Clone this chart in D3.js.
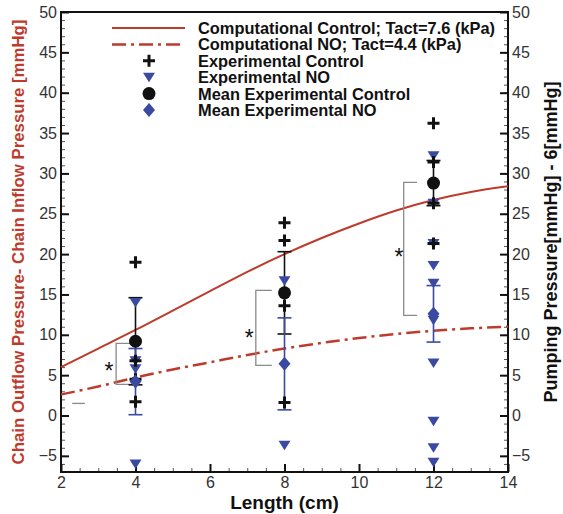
<!DOCTYPE html>
<html>
<head>
<meta charset="utf-8">
<script src="https://cdn.jsdelivr.net/npm/d3@7"></script>
<style>
  body { margin: 0; background: #fff; }
  svg { display: block; font-family: "Liberation Sans", Arial, sans-serif; }
</style>
</head>
<body>
<svg id="chart"></svg>
<script>
// computational curves
const curveLength = [2, 3, 4, 5, 6, 7, 8, 9, 10, 11, 12, 13, 14];
const compControl = [6.0, 8.3, 10.6, 13.0, 15.4, 17.8, 20.0, 22.0, 23.8, 25.4, 26.7, 27.7, 28.4];
const compNO = [2.6, 3.6, 4.7, 5.7, 6.6, 7.5, 8.3, 9.0, 9.6, 10.1, 10.5, 10.8, 11.0];

// experimental points per length
const expLengths = [4, 8, 12];
const expControl4 = [19.0, 6.8, 4.5, 1.7];
const expControl8 = [23.9, 21.7, 13.6, 1.6];
const expControl12 = [36.2, 31.4, 26.3, 21.3];
const expNO4 = [14.0, 6.8, 5.8, -6.0];
const expNO8 = [16.7, -3.7];
const expNO12 = [32.2, 26.3, 21.3, 18.6, 16.4, 11.8, 6.5, -0.7, -4.0, -5.8];

// means and error bars
const meanControl = [9.2, 15.2, 28.8];
const errControl = [5.4, 5.1, 2.8];
const meanNO = [4.2, 6.4, 12.6];
const errNO = [4.1, 5.7, 3.5];

// significance brackets
const bracketX = [3.48, 7.23, 11.2];
const bracketArm = [4.0, 7.66, 11.56];
const bracketTop = [8.95, 15.5, 28.9];
const bracketBottom = [3.85, 6.2, 12.4];
const starX = [3.29, 7.05, 11.07];
const starY = [6.0, 10.1, 20.1];

const xTicks = [2, 4, 6, 8, 10, 12, 14];
const yTicks = [-5, 0, 5, 10, 15, 20, 25, 30, 35, 40, 45, 50];

const legendLabels = [
  "Computational Control; Tact=7.6 (kPa)",
  "Computational NO; Tact=4.4 (kPa)",
  "Experimental Control",
  "Experimental NO",
  "Mean Experimental Control",
  "Mean Experimental NO"
];

const W = 563, H = 514;
const margin = {top: 12, right: 55, bottom: 42, left: 61};
const red = "#bd3b2c", blue = "#3a4aa0", gray = "#8a8a8a";

const svg = d3.select("#chart").attr("width", W).attr("height", H);

const x = d3.scaleLinear().domain([2, 14]).range([margin.left, W - margin.right]);
const y = d3.scaleLinear().domain([-7, 50]).range([H - margin.bottom, margin.top]);

// minor ticks
const minor = g => { g.select(".domain").remove(); g.selectAll(".tick line").attr("stroke", "#555"); };
svg.append("g").attr("transform", `translate(${margin.left},0)`)
  .call(d3.axisLeft(y).tickValues(d3.range(-7, 51, 1)).tickSize(-4).tickFormat(""))
  .call(minor);
svg.append("g").attr("transform", `translate(${W - margin.right},0)`)
  .call(d3.axisRight(y).tickValues(d3.range(-7, 51, 1)).tickSize(-4).tickFormat(""))
  .call(minor);
svg.append("g").attr("transform", `translate(0,${H - margin.bottom})`)
  .call(d3.axisBottom(x).tickValues(d3.range(2, 14.01, 0.5)).tickSize(-4).tickFormat(""))
  .call(minor);

// major ticks
const styleAxis = g => {
  g.select(".domain").remove();
  g.selectAll(".tick line").attr("stroke", "#111").attr("stroke-width", 2);
  g.selectAll(".tick text").attr("fill", "#333").attr("font-size", 16)
    .attr("font-family", "Liberation Sans, Arial, sans-serif");
};
svg.append("g").attr("transform", `translate(${margin.left},0)`)
  .call(d3.axisLeft(y).tickValues(yTicks).tickSizeInner(-8).tickSizeOuter(0).tickPadding(4))
  .call(styleAxis);
svg.append("g").attr("transform", `translate(${W - margin.right},0)`)
  .call(d3.axisRight(y).tickValues(yTicks).tickSizeInner(-8).tickSizeOuter(0).tickPadding(4))
  .call(styleAxis);
svg.append("g").attr("transform", `translate(0,${H - margin.bottom})`)
  .call(d3.axisBottom(x).tickValues(xTicks).tickSizeInner(-8).tickSizeOuter(0).tickPadding(5))
  .call(styleAxis);

// frame
svg.append("rect")
  .attr("x", margin.left).attr("y", margin.top)
  .attr("width", W - margin.left - margin.right)
  .attr("height", H - margin.top - margin.bottom)
  .attr("fill", "none").attr("stroke", "#111").attr("stroke-width", 2);

// axis titles
svg.append("text")
  .attr("transform", `translate(24,${(margin.top + H - margin.bottom) / 2}) rotate(-90)`)
  .attr("text-anchor", "middle").attr("fill", red)
  .attr("font-size", 16.8).attr("font-weight", "bold")
  .text("Chain Outflow Pressure- Chain Inflow Pressure [mmHg]");
svg.append("text")
  .attr("transform", `translate(557,${(margin.top + H - margin.bottom) / 2}) rotate(-90)`)
  .attr("text-anchor", "middle").attr("fill", "#111")
  .attr("font-size", 18).attr("font-weight", "bold")
  .text("Pumping Pressure[mmHg] - 6[mmHg]");
svg.append("text")
  .attr("x", (margin.left + W - margin.right) / 2).attr("y", 509)
  .attr("text-anchor", "middle").attr("fill", "#111")
  .attr("font-size", 19).attr("font-weight", "bold")
  .text("Length (cm)");

// curves
const line = d3.line().x((d, i) => x(curveLength[i])).y(d => y(d)).curve(d3.curveMonotoneX);
svg.append("path").attr("d", line(compControl))
  .attr("fill", "none").attr("stroke", red).attr("stroke-width", 2);
svg.append("path").attr("d", line(compNO))
  .attr("fill", "none").attr("stroke", red).attr("stroke-width", 2.5)
  .attr("stroke-dasharray", "14 5 3 5");

// brackets
const bg = svg.append("g").attr("fill", "none").attr("stroke", gray).attr("stroke-width", 1.3);
bracketX.forEach((bx, i) => {
  bg.append("path").attr("d",
    `M${x(bracketArm[i])},${y(bracketTop[i])}H${x(bx)}V${y(bracketBottom[i])}H${x(bracketArm[i])}`);
  svg.append("text").attr("x", x(starX[i])).attr("y", y(starY[i]) + 12)
    .attr("text-anchor", "middle").attr("font-size", 23).attr("fill", "#111").text("*");
});
bg.append("line").attr("x1", x(2.3)).attr("x2", x(2.64)).attr("y1", y(1.5)).attr("y2", y(1.5));

// error bars
const capW = 7;
function errBar(cx, m, e, color) {
  const g = svg.append("g").attr("stroke", color).attr("stroke-width", 1.6);
  g.append("line").attr("x1", x(cx)).attr("x2", x(cx)).attr("y1", y(m + e)).attr("y2", y(m - e));
  [m + e, m - e].forEach(v => g.append("line")
    .attr("x1", x(cx) - capW).attr("x2", x(cx) + capW).attr("y1", y(v)).attr("y2", y(v)));
}
expLengths.forEach((L, i) => errBar(L, meanControl[i], errControl[i], "#111"));
expLengths.forEach((L, i) => errBar(L, meanNO[i], errNO[i], blue));

// markers
const triPath = (cx, cy) => `M${cx - 6},${cy - 4.5}H${cx + 6}L${cx},${cy + 5}Z`;
const plusPath = (cx, cy) => `M${cx - 6},${cy}H${cx + 6}M${cx},${cy - 6}V${cy + 6}`;
const diamondPath = (cx, cy) => `M${cx},${cy - 7}L${cx + 6},${cy}L${cx},${cy + 7}L${cx - 6},${cy}Z`;

const noSets = [expNO4, expNO8, expNO12];
const ctrlSets = [expControl4, expControl8, expControl12];
noSets.forEach((arr, i) => arr.forEach(v =>
  svg.append("path").attr("d", triPath(x(expLengths[i]), y(v))).attr("fill", blue)));
ctrlSets.forEach((arr, i) => arr.forEach(v =>
  svg.append("path").attr("d", plusPath(x(expLengths[i]), y(v)))
    .attr("stroke", "#111").attr("stroke-width", 3).attr("fill", "none")));
expLengths.forEach((L, i) =>
  svg.append("circle").attr("cx", x(L)).attr("cy", y(meanControl[i])).attr("r", 6.5).attr("fill", "#111"));
expLengths.forEach((L, i) =>
  svg.append("path").attr("d", diamondPath(x(L), y(meanNO[i]))).attr("fill", blue));

// legend
const lg = svg.append("g");
const lx1 = 112, lx2 = 185, sx = 149, tx = 198, ly0 = 28, ldy = 16.4;
lg.append("line").attr("x1", lx1).attr("x2", lx2).attr("y1", ly0).attr("y2", ly0)
  .attr("stroke", red).attr("stroke-width", 2);
lg.append("line").attr("x1", lx1).attr("x2", lx2).attr("y1", ly0 + ldy).attr("y2", ly0 + ldy)
  .attr("stroke", red).attr("stroke-width", 2.5).attr("stroke-dasharray", "14 5 3 5");
lg.append("path").attr("d", plusPath(sx, ly0 + 2 * ldy)).attr("stroke", "#111").attr("stroke-width", 3);
lg.append("path").attr("d", triPath(sx, ly0 + 3 * ldy)).attr("fill", blue);
lg.append("circle").attr("cx", sx).attr("cy", ly0 + 4 * ldy).attr("r", 6.5).attr("fill", "#111");
lg.append("path").attr("d", diamondPath(sx, ly0 + 5 * ldy)).attr("fill", blue);
legendLabels.forEach((t, i) => lg.append("text")
  .attr("x", tx).attr("y", ly0 + i * ldy).attr("dy", "0.36em")
  .attr("font-size", 16.4).attr("font-weight", "bold").attr("fill", "#111").text(t));
</script>
</body>
</html>
